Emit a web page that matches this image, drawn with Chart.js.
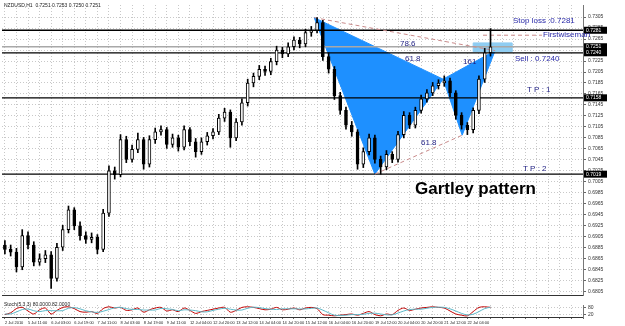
<!DOCTYPE html>
<html>
<head>
<meta charset="utf-8">
<script src="https://cdn.jsdelivr.net/npm/chart.js@4.4.1/dist/chart.umd.min.js"></script>
<style>
html,body{margin:0;padding:0;background:#fff;}
#wrap{position:relative;width:625px;height:326px;overflow:hidden;background:#fff;}
#main{position:absolute;left:0;top:0;}
#osc{position:absolute;left:0;top:300px;}
</style>
</head>
<body>
<div id="wrap">
<canvas id="main" width="625" height="300"></canvas>
<canvas id="osc" width="625" height="26"></canvas>
</div>
<script>
// candles, one per 4 hours, index 0 = 2 Jul 2010
const opens=[0.6890,0.6882,0.6877,0.6850,0.6907,0.6890,0.6859,0.6865,0.6872,0.6829,
0.6886,0.6918,0.6954,0.6925,0.6907,0.6900,0.6904,0.6882,0.6948,0.7025,
0.7018,0.7082,0.7046,0.7064,0.7082,0.7037,0.7082,0.7096,0.7100,0.7073,
0.7085,0.7068,0.7100,0.7078,0.7060,0.7078,0.7089,0.7096,0.7121,0.7132,
0.7085,0.7114,0.7149,0.7185,0.7197,0.7210,0.7206,0.7224,0.7245,0.7238,
0.7251,0.7263,0.7256,0.7277,0.7281,0.7295,0.7233,0.7210,0.7162,0.7135,
0.7108,0.7096,0.7037,0.7060,0.7085,0.7046,0.7032,0.7055,0.7046,0.7091,
0.7126,0.7108,0.7135,0.7156,0.7167,0.7180,0.7185,0.7189,0.7167,0.7126,
0.7108,0.7100,0.7135,0.7192,0.7240];
const highs=[0.6898,0.6890,0.6884,0.6918,0.6914,0.6896,0.6874,0.6880,0.6878,0.6893,
0.6926,0.6961,0.6958,0.6932,0.6914,0.6912,0.6909,0.6955,0.7034,0.7032,
0.7091,0.7088,0.7072,0.7094,0.7086,0.7089,0.7103,0.7107,0.7104,0.7092,
0.7090,0.7107,0.7104,0.7084,0.7085,0.7095,0.7102,0.7128,0.7139,0.7136,
0.7120,0.7156,0.7192,0.7203,0.7217,0.7216,0.7230,0.7252,0.7250,0.7258,
0.7269,0.7268,0.7283,0.7288,0.7304,0.7299,0.7240,0.7215,0.7168,0.7141,
0.7115,0.7100,0.7067,0.7092,0.7090,0.7052,0.7062,0.7060,0.7097,0.7133,
0.7131,0.7141,0.7163,0.7173,0.7186,0.7191,0.7198,0.7194,0.7171,0.7131,
0.7113,0.7140,0.7198,0.7248,0.7284];
const lows=[0.6874,0.6870,0.6841,0.6845,0.6883,0.6852,0.6853,0.6858,0.6811,0.6824,
0.6880,0.6912,0.6918,0.6899,0.6893,0.6894,0.6874,0.6878,0.6942,0.7010,
0.7014,0.7040,0.7041,0.7058,0.7028,0.7032,0.7075,0.7090,0.7066,0.7068,
0.7061,0.7063,0.7071,0.7050,0.7055,0.7072,0.7083,0.7091,0.7115,0.7068,
0.7080,0.7108,0.7143,0.7178,0.7191,0.7199,0.7200,0.7218,0.7231,0.7233,
0.7245,0.7249,0.7251,0.7270,0.7276,0.7226,0.7203,0.7155,0.7128,0.7101,
0.7088,0.7028,0.7031,0.7054,0.7039,0.7019,0.7027,0.7040,0.7041,0.7085,
0.7102,0.7103,0.7130,0.7150,0.7162,0.7174,0.7179,0.7160,0.7119,0.7101,
0.7091,0.7094,0.7129,0.7186,0.7234];
const closes=[0.6882,0.6877,0.6850,0.6907,0.6890,0.6859,0.6865,0.6872,0.6829,0.6886,
0.6918,0.6954,0.6925,0.6907,0.6900,0.6904,0.6882,0.6948,0.7025,0.7018,
0.7082,0.7046,0.7064,0.7082,0.7037,0.7082,0.7096,0.7100,0.7073,0.7085,
0.7068,0.7100,0.7078,0.7060,0.7078,0.7089,0.7096,0.7121,0.7132,0.7085,
0.7114,0.7149,0.7185,0.7197,0.7210,0.7206,0.7224,0.7245,0.7238,0.7251,
0.7263,0.7256,0.7277,0.7281,0.7295,0.7233,0.7210,0.7162,0.7135,0.7108,
0.7096,0.7037,0.7060,0.7085,0.7046,0.7032,0.7055,0.7046,0.7091,0.7126,
0.7108,0.7135,0.7156,0.7167,0.7180,0.7185,0.7189,0.7167,0.7126,0.7108,
0.7100,0.7135,0.7192,0.7240,0.7251];

// stochastic (5,3,3)
const stochMain=[20,35,70,80,50,25,60,75,25,55,
80,85,70,45,40,45,30,70,85,75,
80,55,60,75,40,60,75,80,50,60,
45,75,55,30,45,55,65,75,80,40,
55,80,85,80,70,60,65,80,60,65,
75,60,75,80,70,20,15,10,15,20,
25,15,30,45,20,10,25,20,55,75,
55,65,75,80,85,80,75,50,25,15,
10,45,80,85,80];
const stochSignal=[25,25,42,62,67,52,45,53,53,52,
53,73,78,68,52,43,38,48,62,77,
80,70,63,63,58,58,58,72,68,63,
52,60,58,53,43,43,55,65,73,65,
58,58,73,82,78,70,65,62,68,68,
68,67,67,72,75,57,35,15,13,15,
20,20,23,30,32,25,18,18,33,50,
62,65,65,73,80,82,80,68,50,30,
17,23,45,70,82];

const dateLabels=["2 Jul 2010","5 Jul 11:00","6 Jul 03:00","6 Jul 19:00","7 Jul 11:00","8 Jul 03:00","8 Jul 19:00","9 Jul 11:00","12 Jul 04:00","12 Jul 20:00","13 Jul 12:00","14 Jul 04:00","14 Jul 20:00","15 Jul 12:00","16 Jul 04:00","16 Jul 20:00","19 Jul 12:00","20 Jul 04:00","20 Jul 20:00","21 Jul 12:00","22 Jul 04:00"];
const priceTicks=[0.7305,0.7285,0.7265,0.7245,0.7225,0.7205,0.7185,0.7165,0.7145,0.7125,0.7105,0.7085,0.7065,0.7045,0.7025,0.7005,0.6985,0.6965,0.6945,0.6925,0.6905,0.6885,0.6865,0.6845,0.6825,0.6805];

// gartley points X A B C D
const patIdx=[53.5,64,75.8,79.1,84.8];
const patPrice=[0.7304,0.7019,0.7192,0.7090,0.7244];

// levels
const stopLoss=0.7281, sellLevel=0.7240, bidLevel=0.7251, tp1=0.7158, tp2=0.7019;
const boxIdx=[81,87.7], boxPrice=[0.7258,0.7242];
const wiseIdx=[82.7,92.9], wisePrice=0.7272;

const xMin=-0.5, xMax=100;
Chart.defaults.font.family="'Liberation Sans', Arial, sans-serif";
Chart.defaults.animation=false;

const pts=(xs,ys)=>xs.map((x,i)=>({x:x,y:ys[i]}));
const hline=(v,col)=>({type:'line',data:[{x:xMin,y:v},{x:xMax,y:v}],borderColor:col,borderWidth:1.3,pointRadius:0,order:5});
const dashed=(a,b)=>({type:'line',data:[a,b],borderColor:'#c98a8a',borderWidth:1,borderDash:[4,3],pointRadius:0,order:4});
const P=i=>({x:patIdx[i],y:patPrice[i]});

const gridIdx=[];
for(let i=0;i<=100;i+=2) gridIdx.push(i);

const wicks=closes.map((c,i)=>({x:i,y:[lows[i],highs[i]]}));
const bodies=closes.map((c,i)=>({x:i,y:[opens[i],c]}));
const bodyCol=closes.map((c,i)=>c>=opens[i]?'#ffffff':'#000000');

const notes={
  id:'notes',
  afterDraw(c){
    const ctx=c.ctx, y=c.scales.y, a=c.chartArea;
    ctx.save();
    ctx.textBaseline='middle';
    ctx.font="5px 'Liberation Sans'";
    [stopLoss,bidLevel,sellLevel,tp1,tp2].forEach(v=>{
      const py=y.getPixelForValue(v);
      ctx.fillStyle='#000';
      ctx.fillRect(a.right+1,py-3.5,23,7);
      ctx.fillStyle='#fff';
      ctx.fillText(v.toFixed(4),a.right+3,py);
    });
    ctx.fillStyle='#222';
    ctx.fillText('NZDUSD,H1  0.7251 0.7253 0.7250 0.7251',4,6);
    ctx.font="8px 'Liberation Sans'";
    ctx.fillStyle='#2828a8';
    ctx.fillText('Stop loss :0.7281',513,21);
    ctx.fillText('Sell : 0.7240',515,59);
    ctx.fillText('Firstwiseman',543,35);
    ctx.fillStyle='#1c1c80';
    ctx.fillText('78.6',400,44);
    ctx.fillText('61.8',405,59);
    ctx.fillText('161',463,62);
    ctx.fillText('61.8',421,143);
    ctx.fillText('T P : 1',527,90);
    ctx.fillText('T P : 2',523,169);
    ctx.font="bold 17px 'Liberation Sans'";
    ctx.fillStyle='#000';
    ctx.fillText('Gartley pattern',415,189);
    ctx.restore();
  }
};

new Chart(document.getElementById('main'),{
  data:{datasets:[
    {type:'line',data:[P(0),P(1),P(2),P(0)],fill:'shape',backgroundColor:'#1e90ff',borderColor:'#1e90ff',borderWidth:1,pointRadius:0,order:20},
    {type:'line',data:[P(2),P(3),P(4),P(2)],fill:'shape',backgroundColor:'#1e90ff',borderColor:'#1e90ff',borderWidth:1,pointRadius:0,order:20},
    {type:'line',data:[{x:boxIdx[0],y:boxPrice[0]},{x:boxIdx[1],y:boxPrice[0]},{x:boxIdx[1],y:boxPrice[1]},{x:boxIdx[0],y:boxPrice[1]},{x:boxIdx[0],y:boxPrice[0]}],fill:'shape',backgroundColor:'#8fcdf2',borderColor:'#8fcdf2',borderWidth:1,pointRadius:0,order:19},
    hline(stopLoss,'#000'),hline(sellLevel,'#000'),hline(tp1,'#000'),hline(tp2,'#000'),hline(bidLevel,'#a8a8a8'),
    dashed(P(0),P(4)),dashed(P(1),P(3)),
    dashed({x:wiseIdx[0],y:wisePrice},{x:wiseIdx[1],y:wisePrice}),
    {type:'bar',data:wicks,backgroundColor:'#000',barThickness:1,grouped:false,order:2},
    {type:'bar',data:bodies,backgroundColor:bodyCol,borderColor:'#000',borderWidth:1,borderSkipped:false,barThickness:3,grouped:false,order:1}
  ]},
  options:{
    responsive:false,
    layout:{padding:{left:2,top:2,right:0,bottom:1}},
    plugins:{legend:{display:false},tooltip:{enabled:false}},
    scales:{
      x:{type:'linear',min:xMin,max:xMax,offset:false,
        afterBuildTicks:s=>{s.ticks=gridIdx.map(v=>({value:v}));},
        afterFit:s=>{s.height=0;},
        ticks:{display:false},
        grid:{color:'#c8c8c8',drawTicks:false,offset:false},
        border:{display:true,color:'#333',dash:[1,2]}},
      y:{type:'linear',position:'right',min:0.6799,max:0.7327,
        afterBuildTicks:s=>{s.ticks=priceTicks.map(v=>({value:v}));},
        afterFit:s=>{s.width=42;},
        ticks:{font:{size:5},color:'#333',padding:2,callback:v=>v.toFixed(4)},
        grid:{color:'#c8c8c8',tickLength:3,tickColor:'#666'},
        border:{display:true,color:'#777',dash:[1,2]}}
    }
  },
  plugins:[notes]
});

const oscNotes={
  id:'oscNotes',
  afterDraw(c){
    const ctx=c.ctx;
    ctx.save();
    ctx.font="5px 'Liberation Sans'";
    ctx.fillStyle='#222';
    ctx.textBaseline='middle';
    ctx.fillText('Stoch(5,3,3) 80.0000 82.0000',4,5);
    ctx.restore();
  }
};

new Chart(document.getElementById('osc'),{
  type:'line',
  data:{datasets:[
    {data:pts(stochSignal.map((v,i)=>i),stochSignal),borderColor:'#5cb8c8',borderWidth:1,pointRadius:0,tension:0.3},
    {data:pts(stochMain.map((v,i)=>i),stochMain),borderColor:'#c00000',borderWidth:1,pointRadius:0,tension:0.3}
  ]},
  options:{
    responsive:false,
    layout:{padding:{left:2,top:1,right:0,bottom:0}},
    plugins:{legend:{display:false},tooltip:{enabled:false}},
    scales:{
      x:{type:'linear',min:xMin,max:xMax,offset:false,
        afterBuildTicks:s=>{s.ticks=gridIdx.map(v=>({value:v}));},
        afterFit:s=>{s.height=9;},
        ticks:{font:{size:4},color:'#222',align:'start',padding:1,maxRotation:0,autoSkip:false,
          callback:v=>(v%4===0&&dateLabels[v/4])?dateLabels[v/4]:''},
        grid:{color:'#c8c8c8',tickLength:2,tickColor:'#666'},
        border:{display:true,color:'#333',dash:[1,2]}},
      y:{type:'linear',position:'right',min:0,max:100,
        afterBuildTicks:s=>{s.ticks=[{value:20},{value:80}];},
        afterFit:s=>{s.width=42;},
        ticks:{font:{size:5},color:'#333',padding:2},
        grid:{color:'#c8c8c8',tickLength:3,tickColor:'#666'},
        border:{display:true,color:'#777',dash:[1,2]}}
    }
  },
  plugins:[oscNotes]
});
</script>
</body>
</html>
